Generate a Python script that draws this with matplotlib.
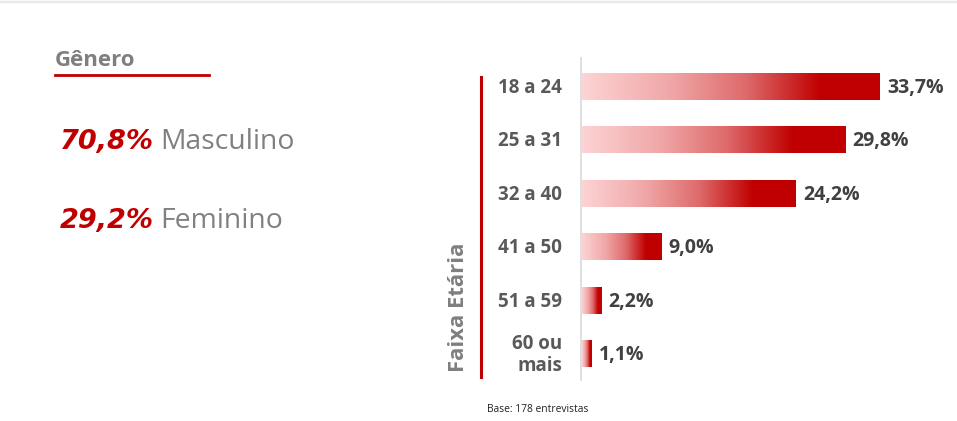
import numpy as np
import matplotlib
matplotlib.use("Agg")
import matplotlib.pyplot as plt
from matplotlib.colors import LinearSegmentedColormap
from matplotlib.lines import Line2D

# ---- data ----
age_groups = ["18 a 24", "25 a 31", "32 a 40", "41 a 50", "51 a 59", "60 ou\nmais"]
age_values = [33.7, 29.8, 24.2, 9.0, 2.2, 1.1]
age_labels = ["33,7%", "29,8%", "24,2%", "9,0%", "2,2%", "1,1%"]
gender_names = ["Masculino", "Feminino"]
gender_labels = ["70,8%", "29,2%"]
gender_title = "Gênero"
axis_title = "Faixa Etária"
base_note = "Base: 178 entrevistas"

W, H = 957, 421
FONT = "Open Sans"
fig = plt.figure(figsize=(W / 100, H / 100), dpi=100)
fig.patch.set_facecolor("white")

def fx(px):
    return px / W

def fy(py):
    return 1 - py / H

# top faint shadow
for i, a in enumerate([0.18, 0.10, 0.04]):
    fig.add_artist(Line2D([0, 1], [fy(i + 0.5), fy(i + 0.5)], color="#888888",
                          alpha=a, lw=1, transform=fig.transFigure))

# ---- bar chart axes ----
ax_left, ax_right = 582, 940
ax_top, ax_bot = 60, 380
ax = fig.add_axes([fx(ax_left), fy(ax_bot), fx(ax_right - ax_left), (ax_bot - ax_top) / H])
px_per_unit = (880 - 582) / 33.7
ax.set_xlim(0, (ax_right - ax_left) / px_per_unit)
spacing = 53.4
c0 = 87
ax.axis("off")

cmap = LinearSegmentedColormap.from_list(
    "redgrad",
    [(0.0, "#FDD3D4"), (0.3, "#F0A6A7"), (0.55, "#DE6A6B"), (0.8, "#C00000"), (1.0, "#C00000")])
grad = np.linspace(0, 1, 256).reshape(1, -1)
bh = 0.49
for i, v in enumerate(age_values):
    ax.imshow(grad, cmap=cmap, aspect="auto", extent=[0, v, i + bh / 2, i - bh / 2],
              interpolation="bilinear", zorder=2)
    ax.text(v + 7 / px_per_unit, i + 0.02, age_labels[i], ha="left", va="center",
            fontsize=14, fontweight="bold", color="#404040", family=FONT)
    ax.text(-20 / px_per_unit, i + 0.02, age_groups[i], ha="right", va="center",
            fontsize=13.5, fontweight="bold", color="#595959", family=FONT,
            linespacing=1.15, clip_on=False)
ax.set_ylim((ax_bot - c0) / spacing, (ax_top - c0) / spacing)

# vertical gray axis line
fig.add_artist(Line2D([fx(581), fx(581)], [fy(58), fy(380)], color="#D9D9D9", lw=1.2,
                      transform=fig.transFigure))
# red vertical line
fig.add_artist(Line2D([fx(481), fx(481)], [fy(77), fy(377)], color="#C00000", lw=2.2,
                      transform=fig.transFigure))
# rotated axis title
fig.text(fx(458), fy(372), axis_title, rotation=90, ha="center", va="bottom",
         fontsize=15.8, fontweight="bold", color="#7F7F7F", family=FONT)

# ---- gender block ----
fig.text(fx(55), fy(61), gender_title, ha="left", va="center", fontsize=16,
         fontweight="bold", color="#7F7F7F", family=FONT)
fig.add_artist(Line2D([fx(55), fx(209)], [fy(75), fy(75)], color="#C00000", lw=2,
                      transform=fig.transFigure))
gy = [142, 221]
for lab, name, y in zip(gender_labels, gender_names, gy):
    fig.text(fx(60), fy(y), lab, ha="left", va="center", fontsize=19.5,
             fontstyle="italic", fontweight="bold", color="#C00000", family="DejaVu Sans")
    fig.text(fx(160), fy(y), name, ha="left", va="center", fontsize=20.4,
             color="#808080", family=FONT)

fig.text(fx(487), fy(410), base_note, ha="left", va="center", fontsize=7.4,
         color="#222222", family=FONT)

fig.savefig("out.png", dpi=100, facecolor="white")
